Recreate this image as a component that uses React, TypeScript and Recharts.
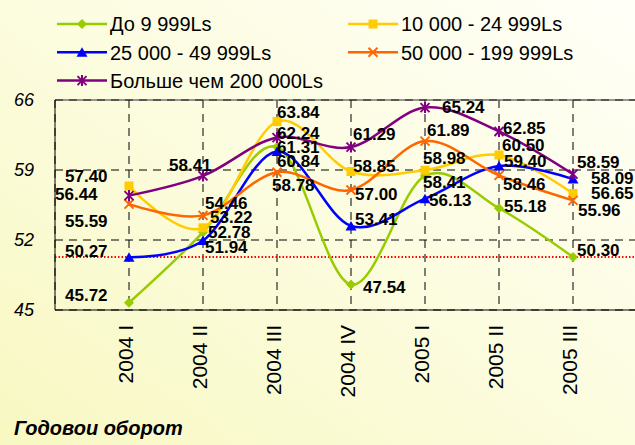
import React from 'react';
import { LineChart, Line, XAxis, YAxis, CartesianGrid, ReferenceLine, LabelList } from 'recharts';

const categories = ['2004 I', '2004 II', '2004 III', '2004 IV', '2005 I', '2005 II', '2005 III'];
const seriesNames = ['До 9 999Ls', '10 000 - 24 999Ls', '25 000 - 49 999Ls', '50 000 - 199 999Ls', 'Больше чем 200 000Ls'];
const upTo9999 = [45.72, 52.78, 61.31, 47.54, 58.41, 55.18, 50.3];
const from10000 = [57.4, 53.22, 63.84, 58.85, 58.98, 60.5, 56.65];
const from25000 = [50.27, 51.94, 60.84, 53.41, 56.13, 59.4, 58.09];
const from50000 = [55.59, 54.46, 58.78, 57.0, 61.89, 58.46, 55.96];
const over200000 = [56.44, 58.41, 62.24, 61.29, 65.24, 62.85, 58.59];
const yTicks = [45, 52, 59, 66];
const referenceValue = 50.3;
const title = 'Годовои оборот';

const FONT = '"Liberation Sans", Arial, sans-serif';

const seriesKeys = ['s0', 's1', 's2', 's3', 's4'];
const seriesColors = ['#99CC00', '#FFCC00', '#0000FF', '#FF6600', '#800080'];
const seriesMarkers = ['diamond', 'square', 'triangle', 'cross', 'star'];

// label offsets (dx to text start, dy to text centre) relative to each point
const labelOffsets: number[][][] = [
  [[-64, -8], [5, 0], [0, 0], [12, 2], [-2, 6], [5, -2], [4, -7]],
  [[-64, -10], [7, -11], [0, -10], [2, -6], [-2, -12], [3, -10], [18, -1]],
  [[-64, -6], [2, 6], [0, 9], [4, -7], [4, 1], [5, -5], [18, -1]],
  [[-64, 17], [2, -13], [-5, 13], [4, 4], [2, -11], [4, 8], [5, 9]],
  [[-74, -2], [-34, -11], [0, -5], [2, -13], [17, -1], [4, -4], [4, -12]],
];

const seriesValues = [upTo9999, from10000, from25000, from50000, over200000];

const data = categories.map((c, i) => {
  const row: any = { x: i + 1, cat: c };
  seriesKeys.forEach((k, s) => {
    row[k] = seriesValues[s][i];
  });
  return row;
});

// Catmull-Rom style (cardinal, tension 0) curve similar to Excel smoothing
function smoothCurve(context: any) {
  const k = 1 / 6;
  const st: any = { _line: NaN, _point: 0 };
  const pt = (x: number, y: number) => {
    context.bezierCurveTo(
      st._x1 + k * (st._x2 - st._x0),
      st._y1 + k * (st._y2 - st._y0),
      st._x2 + k * (st._x1 - x),
      st._y2 + k * (st._y1 - y),
      st._x2,
      st._y2
    );
  };
  return {
    areaStart() { st._line = 0; },
    areaEnd() { st._line = NaN; },
    lineStart() {
      st._x0 = st._x1 = st._x2 = st._y0 = st._y1 = st._y2 = NaN;
      st._point = 0;
    },
    lineEnd() {
      switch (st._point) {
        case 2: context.lineTo(st._x2, st._y2); break;
        case 3: pt(st._x1, st._y1); break;
      }
      if (st._line || (st._line !== 0 && st._point === 1)) context.closePath();
      st._line = 1 - st._line;
    },
    point(x: number, y: number) {
      x = +x; y = +y;
      switch (st._point) {
        case 0: st._point = 1; st._line ? context.lineTo(x, y) : context.moveTo(x, y); break;
        case 1: st._point = 2; st._x1 = x; st._y1 = y; break;
        case 2: st._point = 3; pt(x, y); break;
        default: pt(x, y); break;
      }
      st._x0 = st._x1; st._x1 = st._x2; st._x2 = x;
      st._y0 = st._y1; st._y1 = st._y2; st._y2 = y;
    },
  };
}

function Marker({ type, cx, cy, color }: { type: string; cx: number; cy: number; color: string }) {
  const r = 4.5;
  if (type === 'diamond') {
    return <polygon points={`${cx},${cy - r} ${cx + r},${cy} ${cx},${cy + r} ${cx - r},${cy}`} fill={color} stroke={color} strokeWidth={1} />;
  }
  if (type === 'square') {
    return <rect x={cx - 4.5} y={cy - 4.5} width={9} height={9} fill={color} />;
  }
  if (type === 'triangle') {
    return <polygon points={`${cx},${cy - 5} ${cx + 5.5},${cy + 4.5} ${cx - 5.5},${cy + 4.5}`} fill={color} />;
  }
  if (type === 'cross') {
    return (
      <g stroke={color} strokeWidth={2}>
        <line x1={cx - r} y1={cy - r} x2={cx + r} y2={cy + r} />
        <line x1={cx - r} y1={cy + r} x2={cx + r} y2={cy - r} />
      </g>
    );
  }
  return (
    <g stroke={color} strokeWidth={2}>
      <line x1={cx - r} y1={cy - r} x2={cx + r} y2={cy + r} />
      <line x1={cx - r} y1={cy + r} x2={cx + r} y2={cy - r} />
      <line x1={cx} y1={cy - r - 1} x2={cx} y2={cy + r + 1} />
    </g>
  );
}

const makeDot = (s: number) => (p: any) => (
  <g key={`dot-${s}-${p.index}`}>
    <Marker type={seriesMarkers[s]} cx={p.cx} cy={p.cy} color={seriesColors[s]} />
  </g>
);

const makeLabel = (s: number) => (p: any) => {
  const idx = p.index ?? 0;
  const off = labelOffsets[s][idx] || [0, 0];
  const v = typeof p.value === 'number' ? p.value : Number(p.value);
  return (
    <text
      key={`lbl-${s}-${idx}`}
      x={p.x + off[0]}
      y={p.y + off[1]}
      dy="0.36em"
      textAnchor="start"
      fontFamily={FONT}
      fontWeight="bold"
      fontSize={17}
      fill="#000"
    >
      {v.toFixed(2)}
    </text>
  );
};

const XTick = (props: any) => {
  const { x, y, payload } = props;
  return (
    <text
      x={x}
      y={y}
      transform={`rotate(-90, ${x}, ${y})`}
      textAnchor="end"
      dy={4}
      fontFamily={FONT}
      fontSize={21}
      fill="#000"
    >
      {categories[payload.value - 1]}
    </text>
  );
};

const YTick = (props: any) => {
  const { x, y, payload } = props;
  return (
    <text x={x} y={y} dy="0.36em" textAnchor="end" fontFamily={FONT} fontStyle="italic" fontSize={18} fill="#000">
      {payload.value}
    </text>
  );
};

function LegendOverlay() {
  const cols = [57, 348];
  const rows = [24, 52.3, 80.6];
  return (
    <svg width={635} height={100} style={{ position: 'absolute', left: 0, top: 0, pointerEvents: 'none' }}>
      {seriesNames.map((name, s) => {
        const cx = cols[s % 2];
        const cy = rows[Math.floor(s / 2)];
        return (
          <g key={name}>
            <line x1={cx} y1={cy} x2={cx + 50} y2={cy} stroke={seriesColors[s]} strokeWidth={2.5} />
            <Marker type={seriesMarkers[s]} cx={cx + 25} cy={cy} color={seriesColors[s]} />
            <text x={cx + 53} y={cy} dy="0.36em" fontFamily={FONT} fontSize={20} fill="#000">
              {name}
            </text>
          </g>
        );
      })}
    </svg>
  );
}

export default function App() {
  return (
    <div
      style={{
        position: 'fixed',
        left: 0,
        top: 0,
        width: 635,
        height: 445,
        overflow: 'hidden',
        background: 'linear-gradient(to top right, #F8F8C2 0%, #FCFCDF 50%, #FFFFF8 100%)',
      }}
    >
      <LineChart width={660} height={445} data={data} margin={{ top: 100, right: 13, bottom: 0, left: 0 }}>
        <CartesianGrid stroke="#000" strokeDasharray="8 6" />
        <XAxis
          dataKey="x"
          type="number"
          domain={[0, 8]}
          ticks={[1, 2, 3, 4, 5, 6, 7]}
          interval={0}
          height={135}
          tickLine={false}
          tickSize={0}
          tickMargin={15}
          axisLine={{ stroke: '#000', strokeWidth: 1 }}
          tick={<XTick />}
        />
        <YAxis
          type="number"
          domain={[45, 66]}
          ticks={yTicks}
          interval={0}
          width={55}
          tickLine={false}
          tickSize={0}
          tickMargin={21}
          axisLine={{ stroke: '#000', strokeWidth: 1 }}
          tick={<YTick />}
        />
        <ReferenceLine y={66} stroke="#333" strokeWidth={1} />
        <ReferenceLine y={referenceValue} stroke="#FF0000" strokeWidth={2} strokeDasharray="1.5 2" />
        {seriesKeys.map((k, s) => (
          <Line
            key={k}
            dataKey={k}
            name={seriesNames[s]}
            type={smoothCurve as any}
            stroke={seriesColors[s]}
            strokeWidth={2.5}
            dot={makeDot(s)}
            activeDot={false}
            isAnimationActive={false}
          />
        ))}
        {seriesKeys.map((k, s) => (
          <Line
            key={`lab-${k}`}
            dataKey={k}
            stroke="none"
            dot={false}
            activeDot={false}
            legendType="none"
            isAnimationActive={false}
          >
            <LabelList dataKey={k} content={makeLabel(s)} />
          </Line>
        ))}
      </LineChart>
      <LegendOverlay />
      <div
        style={{
          position: 'absolute',
          left: 14,
          top: 418,
          fontFamily: FONT,
          fontWeight: 'bold',
          fontStyle: 'italic',
          fontSize: 20,
          lineHeight: '20px',
          color: '#000',
          whiteSpace: 'nowrap',
        }}
      >
        {title}
      </div>
    </div>
  );
}
